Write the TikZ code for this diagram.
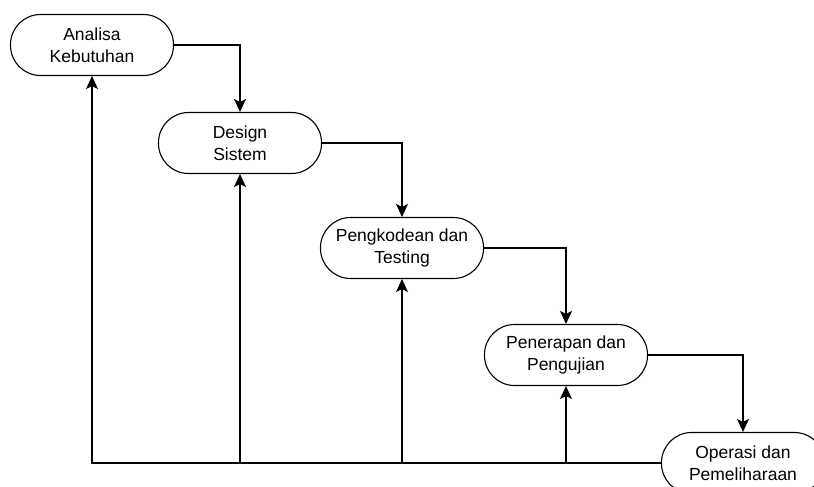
\documentclass[tikz,border=0pt]{standalone}
\usepackage{fontspec}
\setmainfont{Liberation Sans}
\usetikzlibrary{arrows.meta}

\tikzset{
    tahap/.style={draw, line width=1.1pt, rounded corners=30pt, minimum width=163pt,
        minimum height=61pt, align=center, inner sep=0pt,
        font=\fontsize{17.5}{22}\selectfont},
    panah/.style={line width=1.1pt, -{Stealth[length=13pt,width=12pt,inset=3pt]}}
}

\begin{document}
\begin{tikzpicture}[x=1pt,y=-1pt]
            \useasboundingbox (0,0) rectangle (814,487);
            \clip (0,0) rectangle (814,487);
            \fill[white] (0,0) rectangle (814,487);
            \node[tahap] (analisa) at (92,45) {Analisa\\Kebutuhan};
            \node[tahap] (design) at (240,143) {Design\\Sistem};
            \node[tahap] (kode) at (402,248) {Pengkodean dan\\Testing};
            \node[tahap] (terap) at (566,355) {Penerapan dan\\Pengujian};
            \node[tahap] (operasi) at (743,463) {Operasi dan\\Pemeliharaan};
            \draw[panah] (analisa.east) -| (design.north);
            \draw[panah] (design.east) -| (kode.north);
            \draw[panah] (kode.east) -| (terap.north);
            \draw[panah] (terap.east) -| (operasi.north);
            \draw[panah] (operasi.west) -| (analisa.south);
            \draw[panah] (operasi.west) -| (design.south);
            \draw[panah] (operasi.west) -| (kode.south);
            \draw[panah] (operasi.west) -| (terap.south);
        \end{tikzpicture}
\end{document}
